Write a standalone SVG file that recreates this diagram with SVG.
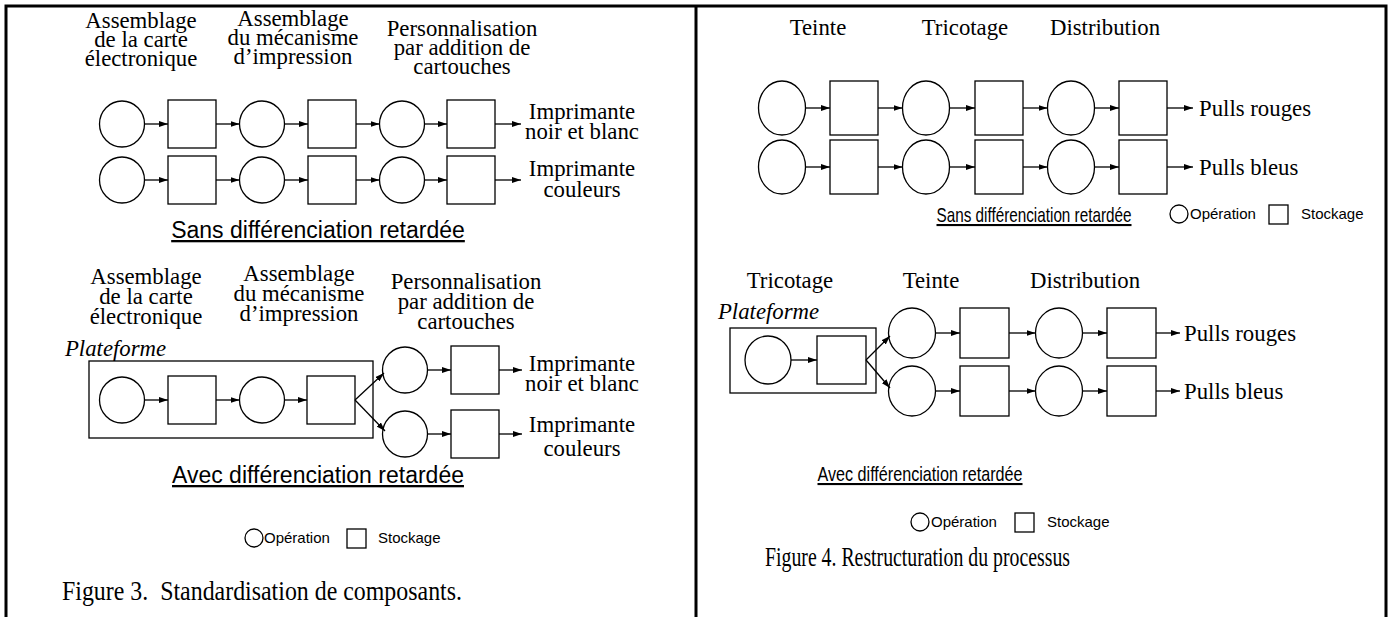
<svg xmlns="http://www.w3.org/2000/svg" width="1390" height="617" viewBox="0 0 1390 617">
<defs>
<marker id="ah" markerWidth="9" markerHeight="6" refX="9" refY="3" orient="auto" markerUnits="userSpaceOnUse">
<path d="M0,0 L9,3 L0,6 z" fill="#000"/>
</marker>
<style>
.op{fill:#fff;stroke:#000;stroke-width:1.3}
.st{fill:#fff;stroke:#000;stroke-width:1.3}
.pf{fill:none;stroke:#000;stroke-width:1.3}
.cn{fill:none;stroke:#000;stroke-width:1.3;marker-end:url(#ah)}
.lb{font-family:"Liberation Serif","Times New Roman",serif;font-size:24px;text-anchor:middle;fill:#000;transform:scaleX(0.95);transform-box:fill-box;transform-origin:50% 50%}
.out{font-family:"Liberation Serif","Times New Roman",serif;font-size:24px;fill:#000;transform:scaleX(0.95);transform-box:fill-box;transform-origin:0% 50%}
.it{font-family:"Liberation Serif","Times New Roman",serif;font-size:24px;font-style:italic;fill:#000;transform:scaleX(0.95);transform-box:fill-box;transform-origin:0% 50%}
.sub{font-family:"Liberation Sans",Arial,sans-serif;font-size:23px;text-decoration:underline;text-anchor:middle;fill:#000}
.subr{font-family:"Liberation Sans",Arial,sans-serif;font-size:21px;text-decoration:underline;text-anchor:middle;fill:#000}
.lg{font-family:"Liberation Sans",Arial,sans-serif;font-size:15px;fill:#000}
.cap{font-family:"Liberation Serif","Times New Roman",serif;font-size:28px;white-space:pre;fill:#000}
.frame{stroke:#000;stroke-width:3;fill:none}
</style>
</defs>
<rect width="1390" height="617" fill="#fff"/>
<g id="frame">
<path class="frame" d="M6,617 V6 H1386 V617 M696,6 V617"/>
</g>

<!-- LEFT PANEL: Figure 3 -->
<g id="fig3-top-labels">
<text class="lb"><tspan x="141" y="28">Assemblage</tspan><tspan x="141" y="47">de la carte</tspan><tspan x="141" y="66">électronique</tspan></text>
<text class="lb"><tspan x="293" y="26">Assemblage</tspan><tspan x="293" y="45">du mécanisme</tspan><tspan x="293" y="64">d’impression</tspan></text>
<text class="lb"><tspan x="462" y="36">Personnalisation</tspan><tspan x="462" y="55">par addition de</tspan><tspan x="462" y="74">cartouches</tspan></text>
</g>
<g id="l-a1"><ellipse class="op" cx="122" cy="124" rx="22.5" ry="23"/></g>
<g id="l-a2"><rect class="st" x="168" y="100" width="48" height="48"/></g>
<g id="l-a3"><ellipse class="op" cx="262" cy="124" rx="22.5" ry="23"/></g>
<g id="l-a4"><rect class="st" x="308" y="100" width="48" height="48"/></g>
<g id="l-a5"><ellipse class="op" cx="402" cy="124" rx="22.5" ry="23"/></g>
<g id="l-a6"><rect class="st" x="447" y="100" width="48" height="48"/></g>
<g id="l-a-out"><text class="lb"><tspan x="582" y="119">Imprimante</tspan><tspan x="582" y="139">noir et blanc</tspan></text></g>
<g id="l-b1"><ellipse class="op" cx="122" cy="180" rx="22.5" ry="23"/></g>
<g id="l-b2"><rect class="st" x="168" y="156" width="48" height="48"/></g>
<g id="l-b3"><ellipse class="op" cx="262" cy="180" rx="22.5" ry="23"/></g>
<g id="l-b4"><rect class="st" x="308" y="156" width="48" height="48"/></g>
<g id="l-b5"><ellipse class="op" cx="402" cy="180" rx="22.5" ry="23"/></g>
<g id="l-b6"><rect class="st" x="447" y="156" width="48" height="48"/></g>
<g id="l-b-out"><text class="lb"><tspan x="582" y="176">Imprimante</tspan><tspan x="582" y="197">couleurs</tspan></text></g>
<g id="l-title1"><text class="sub" x="318" y="238">Sans différenciation retardée</text></g>

<g id="fig3-bottom-labels">
<text class="lb"><tspan x="146" y="284">Assemblage</tspan><tspan x="146" y="304">de la carte</tspan><tspan x="146" y="324">électronique</tspan></text>
<text class="lb"><tspan x="299" y="281">Assemblage</tspan><tspan x="299" y="301">du mécanisme</tspan><tspan x="299" y="321">d’impression</tspan></text>
<text class="lb"><tspan x="466" y="289">Personnalisation</tspan><tspan x="466" y="309">par addition de</tspan><tspan x="466" y="329">cartouches</tspan></text>
</g>
<g id="l-platform"><rect class="pf" x="89" y="361" width="284" height="77"/><text class="it" x="65" y="356">Plateforme</text></g>
<g id="l-p1"><ellipse class="op" cx="122" cy="400" rx="22.5" ry="23"/></g>
<g id="l-p2"><rect class="st" x="168" y="376" width="48" height="48"/></g>
<g id="l-p3"><ellipse class="op" cx="262" cy="400" rx="22.5" ry="23"/></g>
<g id="l-p4"><rect class="st" x="307" y="376" width="48" height="48"/></g>
<g id="l-c1"><ellipse class="op" cx="405" cy="370" rx="22.5" ry="23"/></g>
<g id="l-c2"><rect class="st" x="451" y="346" width="48" height="48"/></g>
<g id="l-c-out"><text class="lb"><tspan x="582" y="371">Imprimante</tspan><tspan x="582" y="391">noir et blanc</tspan></text></g>
<g id="l-d1"><ellipse class="op" cx="405" cy="434" rx="22.5" ry="23"/></g>
<g id="l-d2"><rect class="st" x="451" y="410" width="48" height="48"/></g>
<g id="l-d-out"><text class="lb"><tspan x="582" y="432">Imprimante</tspan><tspan x="582" y="456">couleurs</tspan></text></g>
<g id="l-title2"><text class="sub" x="318" y="483">Avec différenciation retardée</text></g>
<g id="l-legend">
<circle class="op" cx="254" cy="538" r="9"/><text class="lg" x="264" y="543">Opération</text>
<rect class="st" x="347" y="529" width="19" height="19"/><text class="lg" x="378" y="543">Stockage</text>
</g>
<g id="l-caption"><text class="cap" x="62" y="600" textLength="400" lengthAdjust="spacingAndGlyphs">Figure 3.  Standardisation de composants.</text></g>

<!-- RIGHT PANEL: Figure 4 -->
<g id="fig4-top-labels">
<text class="lb" x="818" y="35">Teinte</text>
<text class="lb" x="965" y="35">Tricotage</text>
<text class="lb" x="1105" y="35">Distribution</text>
</g>
<g id="r-a1"><ellipse class="op" cx="782" cy="108" rx="23.5" ry="27"/></g>
<g id="r-a2"><rect class="st" x="830" y="81" width="48" height="54"/></g>
<g id="r-a3"><ellipse class="op" cx="926" cy="108" rx="23.5" ry="27"/></g>
<g id="r-a4"><rect class="st" x="975" y="81" width="48" height="54"/></g>
<g id="r-a5"><ellipse class="op" cx="1071" cy="108" rx="23.5" ry="27"/></g>
<g id="r-a6"><rect class="st" x="1119" y="81" width="48" height="54"/></g>
<g id="r-a-out"><text class="out" x="1199" y="116">Pulls rouges</text></g>
<g id="r-b1"><ellipse class="op" cx="782" cy="167" rx="23.5" ry="27"/></g>
<g id="r-b2"><rect class="st" x="830" y="140" width="48" height="54"/></g>
<g id="r-b3"><ellipse class="op" cx="926" cy="167" rx="23.5" ry="27"/></g>
<g id="r-b4"><rect class="st" x="975" y="140" width="48" height="54"/></g>
<g id="r-b5"><ellipse class="op" cx="1071" cy="167" rx="23.5" ry="27"/></g>
<g id="r-b6"><rect class="st" x="1119" y="140" width="48" height="54"/></g>
<g id="r-b-out"><text class="out" x="1199" y="175">Pulls bleus</text></g>
<g id="r-title1"><text class="subr" x="1034" y="222" textLength="195" lengthAdjust="spacingAndGlyphs">Sans différenciation retardée</text></g>
<g id="r-legend1">
<circle class="op" cx="1179" cy="214" r="9"/><text class="lg" x="1190" y="219">Opération</text>
<rect class="st" x="1269" y="205" width="19" height="19"/><text class="lg" x="1301" y="219">Stockage</text>
</g>

<g id="fig4-bottom-labels">
<text class="lb" x="790" y="288">Tricotage</text>
<text class="lb" x="931" y="288">Teinte</text>
<text class="lb" x="1085" y="288">Distribution</text>
</g>
<g id="r-platform"><rect class="pf" x="730" y="328" width="146" height="65"/><text class="it" x="718" y="319">Plateforme</text></g>
<g id="r-p1"><ellipse class="op" cx="768" cy="360" rx="23" ry="24"/></g>
<g id="r-p2"><rect class="st" x="817" y="336" width="49" height="48"/></g>
<g id="r-c1"><ellipse class="op" cx="912" cy="333" rx="23.5" ry="25"/></g>
<g id="r-c2"><rect class="st" x="960" y="308" width="49" height="50"/></g>
<g id="r-c3"><ellipse class="op" cx="1059" cy="333" rx="23.5" ry="25"/></g>
<g id="r-c4"><rect class="st" x="1107" y="308" width="49" height="50"/></g>
<g id="r-c-out"><text class="out" x="1184" y="341">Pulls rouges</text></g>
<g id="r-d1"><ellipse class="op" cx="912" cy="391" rx="23.5" ry="25"/></g>
<g id="r-d2"><rect class="st" x="960" y="366" width="49" height="50"/></g>
<g id="r-d3"><ellipse class="op" cx="1059" cy="391" rx="23.5" ry="25"/></g>
<g id="r-d4"><rect class="st" x="1107" y="366" width="49" height="50"/></g>
<g id="r-d-out"><text class="out" x="1184" y="399">Pulls bleus</text></g>
<g id="r-title2"><text class="subr" x="920" y="481" textLength="205" lengthAdjust="spacingAndGlyphs">Avec différenciation retardée</text></g>
<g id="r-legend2">
<circle class="op" cx="920" cy="522" r="9"/><text class="lg" x="931" y="527">Opération</text>
<rect class="st" x="1015" y="513" width="19" height="19"/><text class="lg" x="1047" y="527">Stockage</text>
</g>
<g id="r-caption"><text class="cap" x="765" y="566" textLength="305" lengthAdjust="spacingAndGlyphs">Figure 4. Restructuration du processus</text></g>

<g id="connectors">
<path class="cn" d="M144.5,124 H168"/><path class="cn" d="M216,124 H239.5"/><path class="cn" d="M284.5,124 H308"/><path class="cn" d="M356,124 H379.5"/><path class="cn" d="M424.5,124 H447"/><path class="cn" d="M495,124 H521"/>
<path class="cn" d="M144.5,180 H168"/><path class="cn" d="M216,180 H239.5"/><path class="cn" d="M284.5,180 H308"/><path class="cn" d="M356,180 H379.5"/><path class="cn" d="M424.5,180 H447"/><path class="cn" d="M495,180 H521"/>
<path class="cn" d="M144.5,400 H168"/><path class="cn" d="M216,400 H239.5"/><path class="cn" d="M284.5,400 H307"/>
<path class="cn" d="M355,400 L384,373"/><path class="cn" d="M355,400 L385,431"/>
<path class="cn" d="M427.5,370 H451"/><path class="cn" d="M499,370 H522"/>
<path class="cn" d="M427.5,434 H451"/><path class="cn" d="M499,434 H522"/>
<path class="cn" d="M805.5,108 H830"/><path class="cn" d="M878,108 H902.5"/><path class="cn" d="M949.5,108 H975"/><path class="cn" d="M1023,108 H1047.5"/><path class="cn" d="M1094.5,108 H1119"/><path class="cn" d="M1167,108 H1193"/>
<path class="cn" d="M805.5,167 H830"/><path class="cn" d="M878,167 H902.5"/><path class="cn" d="M949.5,167 H975"/><path class="cn" d="M1023,167 H1047.5"/><path class="cn" d="M1094.5,167 H1119"/><path class="cn" d="M1167,167 H1193"/>
<path class="cn" d="M791,360 H817"/>
<path class="cn" d="M866,360 L890,336"/><path class="cn" d="M866,360 L890,388"/>
<path class="cn" d="M935.5,333 H960"/><path class="cn" d="M1009,333 H1035.5"/><path class="cn" d="M1082.5,333 H1107"/><path class="cn" d="M1156,333 H1180"/>
<path class="cn" d="M935.5,391 H960"/><path class="cn" d="M1009,391 H1035.5"/><path class="cn" d="M1082.5,391 H1107"/><path class="cn" d="M1156,391 H1180"/>
</g>
</svg>
